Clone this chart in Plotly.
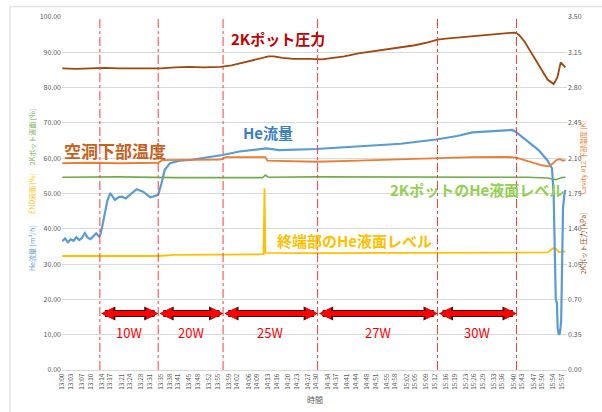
import plotly.graph_objects as go

FONT = "Noto Sans CJK JP, Noto Sans, sans-serif"


def to_min(s):
    """'HH:MM' or 'HH:MM:SS' -> minutes after 13:00."""
    parts = [int(p) for p in s.split(":")]
    h, m = parts[0], parts[1]
    sec = parts[2] if len(parts) > 2 else 0
    return (h - 13) * 60 + m + sec / 60.0


# ---- x-axis category labels ----
tick_labels = [
    "13:00", "13:03", "13:07", "13:10", "13:14", "13:17", "13:21", "13:24", "13:28",
    "13:31", "13:35", "13:38", "13:41", "13:45", "13:48", "13:52", "13:55", "13:59",
    "14:02", "14:06", "14:09", "14:13", "14:16", "14:20", "14:23", "14:27", "14:30",
    "14:34", "14:37", "14:41", "14:44", "14:48", "14:51", "14:55", "14:58", "15:02",
    "15:05", "15:09", "15:12", "15:16", "15:19", "15:23", "15:26", "15:29", "15:33",
    "15:36", "15:40", "15:43", "15:47", "15:50", "15:54", "15:57",
]

# ---- He flow [m3/h] (left axis) ----
flow_time = [
    "13:00:00", "13:01:00", "13:02:00", "13:03:00", "13:04:00", "13:05:00", "13:06:00",
    "13:07:00", "13:08:00", "13:09:00", "13:10:00", "13:11:00", "13:12:00", "13:13:00",
    "13:13:30", "13:14:15", "13:15:10", "13:16:00", "13:17:00", "13:18:40", "13:20:00",
    "13:21:10", "13:22:30", "13:24:00", "13:26:20", "13:28:40", "13:30:00", "13:31:10",
    "13:32:50", "13:34:00", "13:35:10", "13:36:20", "13:38:10", "13:41:40", "13:45:10",
    "13:50:00", "13:56:50", "14:02:50", "14:08:00", "14:12:20", "14:17:00", "14:24:00",
    "14:30:00", "14:40:00", "14:50:00", "15:00:00", "15:12:30", "15:20:00", "15:25:20",
    "15:32:00", "15:39:30", "15:40:40", "15:44:10", "15:48:50", "15:51:50", "15:53:35",
    "15:54:10", "15:54:35", "15:54:55", "15:55:20", "15:55:35", "15:56:00", "15:56:25",
    "15:56:50", "15:57:10", "15:57:30", "15:58:00", "15:58:20",
]
flow_val = [
    36.5, 37.3, 36.2, 37.0, 36.6, 37.6, 36.8,
    37.4, 38.8, 37.5, 37.1, 37.9, 38.7, 37.8,
    38.4, 41.0, 45.3, 48.0, 50.1, 48.2, 49.0,
    49.1, 48.6, 49.6, 51.2, 50.5, 49.6, 48.9,
    49.3, 49.6, 52.9, 56.7, 58.6, 59.3, 59.5,
    60.0, 60.9, 61.9, 62.4, 62.8, 62.3, 62.4,
    62.6, 63.1, 63.7, 64.1, 65.3, 66.3, 67.3,
    67.6, 68.0, 67.5, 65.2, 62.3, 59.5, 57.1,
    50.0, 30.0, 20.0, 19.0, 12.0, 10.0, 10.5,
    14.0, 35.0, 46.0, 50.0, 51.0,
]

# ---- 2K pot pressure [kPa] (right axis) ----
press_time = [
    "13:00", "13:05", "13:10", "13:15", "13:20", "13:25", "13:30", "13:35", "13:40",
    "13:45", "13:50", "13:56", "14:00", "14:04", "14:08", "14:11", "14:13", "14:15",
    "14:18", "14:22", "14:28", "14:32", "14:36", "14:40", "14:45", "14:50", "14:55",
    "15:00", "15:05", "15:10", "15:13", "15:16", "15:22", "15:28", "15:34", "15:38",
    "15:40", "15:41", "15:42", "15:44", "15:46", "15:48", "15:50", "15:52", "15:54:10",
    "15:55:30", "15:56:40", "15:57:30", "15:58:20",
]
press_val = [
    2.990, 2.985, 2.990, 2.995, 2.990, 2.990, 2.995, 2.990, 3.000,
    3.005, 3.000, 3.005, 3.020, 3.045, 3.070, 3.095, 3.110, 3.110,
    3.095, 3.085, 3.085, 3.080, 3.095, 3.110, 3.140, 3.160, 3.180,
    3.200, 3.220, 3.250, 3.275, 3.285, 3.300, 3.315, 3.330, 3.340,
    3.345, 3.340, 3.320, 3.250, 3.160, 3.070, 2.980, 2.880, 2.835,
    2.900, 3.050, 3.020, 3.000,
]

# ---- Cavity #12 lower temperature [K] (right axis) ----
temp_time = [
    "13:00", "13:10", "13:20", "13:30", "13:34", "13:35:30", "13:45", "13:56", "13:58",
    "14:05", "14:10", "14:12", "14:12:40", "14:20", "14:30", "14:45", "15:00", "15:12",
    "15:25", "15:38", "15:41", "15:45", "15:50", "15:52:30", "15:54", "15:55", "15:56:30",
    "15:57:30", "15:58:20",
]
temp_val = [
    2.050, 2.055, 2.050, 2.055, 2.055, 2.080, 2.083, 2.085, 2.110,
    2.112, 2.110, 2.110, 2.075, 2.070, 2.065, 2.075, 2.090, 2.100,
    2.110, 2.112, 2.105, 2.070, 2.030, 2.020, 2.050, 2.080, 2.090,
    2.075, 2.085,
]

# ---- 2K pot He level [%] (left axis) ----
pot_time = [
    "13:00", "13:20", "13:40", "14:00", "14:11", "14:12", "14:13", "14:30", "15:00",
    "15:30", "15:45", "15:52", "15:55", "15:57", "15:58:20",
]
pot_val = [
    54.6, 54.7, 54.5, 54.6, 54.5, 55.2, 54.6, 54.7, 54.6,
    54.7, 54.6, 54.4, 53.9, 54.5, 54.6,
]

# ---- END He level [%] (left axis) ----
end_time = [
    "13:00", "13:20", "13:34", "13:40", "13:55", "14:11:20", "14:11:40", "14:12:00",
    "14:30", "15:00", "15:30", "15:45", "15:52", "15:54", "15:55", "15:56", "15:58:20",
]
end_val = [
    32.3, 32.2, 32.3, 32.6, 32.7, 32.8, 51.5, 33.2,
    33.1, 33.2, 33.3, 33.4, 33.3, 34.5, 34.3, 33.4, 33.6,
]

# ---- heater power steps ----
step_time = ["13:13:20", "13:34:00", "13:57:00", "14:30:30", "15:13:00", "15:41:00"]
step_power = ["10W", "20W", "25W", "27W", "30W"]
arrow_level = 16.0
power_label_level = 10.5

# ---- in-chart series labels ----
series_labels = [
    ("2Kポット圧力", "14:16:30", 93.8, "#c00000", 15),
    ("He流量", "14:13:00", 67.3, "#3b7fc4", 15),
    ("空洞下部温度", "13:18:40", 62.3, "#c8611c", 17),
    ("2KポットのHe液面レベル", "15:27:00", 51.1, "#92d050", 15),
    ("終端部のHe液面レベル", "14:43:30", 36.8, "#ffc000", 15),
]

C_FLOW = "#5b9bd5"
C_PRESS = "#9e480e"
C_TEMP = "#ed7d31"
C_POT = "#70ad47"
C_END = "#ffc000"
GRID = "#d9d9d9"

fig = go.Figure()

fig.add_trace(go.Scatter(x=[to_min(t) for t in pot_time], y=pot_val, mode="lines",
                         line=dict(color=C_POT, width=1.6), yaxis="y"))
fig.add_trace(go.Scatter(x=[to_min(t) for t in end_time], y=end_val, mode="lines",
                         line=dict(color=C_END, width=1.8), yaxis="y"))
fig.add_trace(go.Scatter(x=[to_min(t) for t in temp_time], y=temp_val, mode="lines",
                         line=dict(color=C_TEMP, width=1.8), yaxis="y2"))
fig.add_trace(go.Scatter(x=[to_min(t) for t in press_time], y=press_val, mode="lines",
                         line=dict(color=C_PRESS, width=1.8), yaxis="y2"))
fig.add_trace(go.Scatter(x=[to_min(t) for t in flow_time], y=flow_val, mode="lines",
                         line=dict(color=C_FLOW, width=2.2), yaxis="y"))

shapes = []
# heater step boundaries
for t in step_time:
    shapes.append(dict(type="line", xref="x", yref="paper", x0=to_min(t), x1=to_min(t),
                       y0=0, y1=1, line=dict(color="#ff3b3b", width=1, dash="dashdot")))
# outer chart frame
shapes.append(dict(type="rect", xref="paper", yref="paper", x0=-0.103, x1=1.08,
                   y0=-0.13, y1=1.029, line=dict(color=GRID, width=1), layer="below"))

annotations = []
# double-headed power arrows (dark outline underneath a red body)
for i in range(len(step_power)):
    x0, x1 = to_min(step_time[i]), to_min(step_time[i + 1])
    for col, w, sz in (("#3a1010", 7, 0.4), ("#ff0000", 5, 0.48)):
        annotations.append(dict(x=x1, y=arrow_level, ax=x0, ay=arrow_level,
                                xref="x", yref="y", axref="x", ayref="y", text="",
                                showarrow=True, arrowhead=2, arrowside="end+start",
                                arrowwidth=w, arrowsize=sz, arrowcolor=col))
    annotations.append(dict(x=(x0 + x1) / 2, y=power_label_level, xref="x", yref="y",
                            text=step_power[i], showarrow=False,
                            font=dict(family=FONT, size=13, color="#ff0000")))

for text, t, v, col, size in series_labels:
    annotations.append(dict(x=to_min(t), y=v, xref="x", yref="y", text=f"<b>{text}</b>",
                            showarrow=False, font=dict(family=FONT, size=size, color=col)))

# axis titles
axis_titles = [
    ("2Kポット液面 [%]", -0.073, 0.660, C_POT),
    ("END液面 [%]", -0.073, 0.499, C_END),
    ("He流量 [m³/h]", -0.073, 0.346, C_FLOW),
    ("Cavity #12 下部温度 [K]", 1.046, 0.603, C_TEMP),
    ("2Kポット圧力 [kPa]", 1.046, 0.360, C_PRESS),
]
for text, x, y, col in axis_titles:
    annotations.append(dict(x=x, y=y, xref="paper", yref="paper", text=text,
                            textangle=-90, showarrow=False,
                            font=dict(family=FONT, size=7, color=col)))
annotations.append(dict(x=0.501, y=-0.105, xref="paper", yref="paper", text="時間",
                        showarrow=False, font=dict(family=FONT, size=8, color="#595959")))

fig.update_layout(
    width=602, height=412,
    margin=dict(l=62, r=35, t=17, b=42),
    paper_bgcolor="white", plot_bgcolor="white",
    showlegend=False,
    font=dict(family=FONT, size=7, color="#595959"),
    xaxis=dict(range=[-0.1, 178.9], tickmode="array",
               tickvals=[to_min(t) for t in tick_labels], ticktext=tick_labels,
               tickangle=-90, tickfont=dict(size=6.5, color="#595959"),
               showgrid=False, zeroline=False, showline=True, linecolor=GRID,
               ticks=""),
    yaxis=dict(range=[0, 100], dtick=10, tickformat=".2f", showgrid=True,
               gridcolor=GRID, gridwidth=1, zeroline=False, ticks="",
               tickfont=dict(size=7, color="#595959")),
    yaxis2=dict(range=[0, 3.5], dtick=0.35, tickformat=".2f", overlaying="y",
                side="right", showgrid=False, zeroline=False, ticks="",
                tickfont=dict(size=7, color="#595959")),
    shapes=shapes,
    annotations=annotations,
)

fig.write_html("out.html")
